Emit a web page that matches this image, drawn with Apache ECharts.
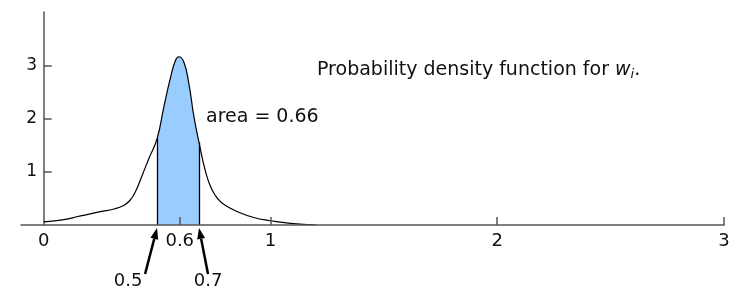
<!DOCTYPE html>
<html>
<head>
<meta charset="utf-8">
<script src="https://cdn.jsdelivr.net/npm/echarts@6/dist/echarts.min.js"></script>
<style>
html, body { margin: 0; padding: 0; background: #fff; }
#chart { width: 742px; height: 289px; }
</style>
</head>
<body>
<div id="chart"></div>
<script>
// density curve
var curveX = [0, 0.075, 0.163, 0.25, 0.31, 0.35, 0.38, 0.405, 0.435, 0.464, 0.5, 0.53, 0.56, 0.581, 0.596, 0.618, 0.64, 0.662, 0.685, 0.714, 0.74, 0.77, 0.8, 0.86, 0.926, 1.0, 1.088, 1.2];
var curveY = [0.06, 0.09, 0.17, 0.25, 0.3, 0.36, 0.46, 0.63, 0.94, 1.25, 1.62, 2.22, 2.78, 3.09, 3.16, 3.06, 2.66, 2.05, 1.55, 1.0, 0.68, 0.48, 0.37, 0.24, 0.14, 0.08, 0.03, 0];
var shadeEdges = [0.5, 0.685];
var arrowLabels = ['0.5', '0.7'];
var xLabelValues = [0, 0.6, 1, 2, 3];
var xTickValues = [0.6, 1, 2, 3];
var yLabelValues = [1, 2, 3];
var areaText = 'area = 0.66';

var FONT = 'DejaVu Sans';
var curve = curveX.map(function (x, i) { return [x, curveY[i]]; });
var shaded = curve.filter(function (p) { return p[0] >= shadeEdges[0] && p[0] <= shadeEdges[1]; });
var edgeLines = shadeEdges.map(function (x) {
    var h = curveY[curveX.indexOf(x)];
    return [{ coord: [x, 0] }, { coord: [x, h] }];
});

// arrow styling (pixel offsets from the tip)
var arrowLean = [-12, 9];
var labelShift = [-17, 0];

function renderArrow(params, api) {
    var i = params.dataIndex;
    var tip = api.coord([api.value(0), 0]);
    var x1 = tip[0], y1 = tip[1] + 3;
    var x0 = x1 + arrowLean[i], y0 = y1 + 46;
    var len = Math.sqrt((x1 - x0) * (x1 - x0) + (y1 - y0) * (y1 - y0));
    var ux = (x1 - x0) / len, uy = (y1 - y0) / len;
    var hx = x1 - ux * 11, hy = y1 - uy * 11;
    var px = -uy * 4, py = ux * 4;
    return {
        type: 'group',
        children: [
            { type: 'line', shape: { x1: x0, y1: y0, x2: hx, y2: hy }, style: { stroke: '#000', lineWidth: 2.5 } },
            { type: 'polygon', shape: { points: [[x1, y1], [hx + px, hy + py], [hx - px, hy - py]] }, style: { fill: '#000' } },
            { type: 'text', x: x0 + labelShift[i], y: y0 + 7,
              style: { text: arrowLabels[i], fontSize: 18, fontFamily: FONT, fill: '#111', align: 'center', verticalAlign: 'middle' } }
        ]
    };
}

var myChart = echarts.init(document.getElementById('chart'));
myChart.setOption({
    animation: false,
    backgroundColor: '#fff',
    grid: { left: 21, right: 18, top: 12, bottom: 64 },
    xAxis: {
        type: 'value',
        min: -0.1,
        max: 3,
        z: 5,
        splitLine: { show: false },
        axisLine: { onZero: true, lineStyle: { color: '#555', width: 1.5 } },
        axisTick: { show: true, inside: true, length: 8, customValues: xTickValues, lineStyle: { color: '#555', width: 1.5 } },
        axisLabel: { customValues: xLabelValues, margin: 7, fontSize: 18, fontFamily: FONT, color: '#111' }
    },
    yAxis: {
        type: 'value',
        min: 0,
        max: 4,
        splitLine: { show: false },
        axisLine: { show: true, onZero: true, lineStyle: { color: '#555', width: 1.5 } },
        axisTick: { show: true, inside: true, length: 8, customValues: yLabelValues, lineStyle: { color: '#555', width: 1.5 } },
        // labels stay at the grid edge, so pull them over to the y axis line
        axisLabel: { customValues: yLabelValues, margin: -16, fontSize: 17, fontFamily: FONT, color: '#111' }
    },
    graphic: [
        { type: 'text', left: 206, top: 108, style: { text: areaText, fontSize: 19, fontFamily: FONT, fill: '#111' } },
        { type: 'text', x: 317, y: 70,
          style: {
            text: 'Probability density function for {w|w}{i|i}.',
            fontSize: 19, fontFamily: FONT, fill: '#111', verticalAlign: 'middle',
            rich: {
                w: { fontSize: 19, fontFamily: FONT, fontStyle: 'italic', fill: '#111' },
                i: { fontSize: 13, fontFamily: FONT, fontStyle: 'italic', fill: '#111', padding: [9, 0, 0, 0] }
            }
          } }
    ],
    series: [
        {
            name: 'shaded',
            type: 'line',
            data: shaded,
            smooth: 0.5,
            symbol: 'none',
            z: 2,
            lineStyle: { width: 0 },
            areaStyle: { color: '#99ccff', opacity: 1 },
            markLine: {
                silent: true,
                symbol: 'none',
                label: { show: false },
                lineStyle: { color: '#000', width: 1.3, type: 'solid' },
                data: edgeLines
            }
        },
        {
            name: 'density',
            type: 'line',
            data: curve,
            smooth: 0.5,
            symbol: 'none',
            z: 3,
            lineStyle: { color: '#000', width: 1.2 }
        },
        {
            name: 'arrows',
            type: 'custom',
            data: shadeEdges.map(function (x) { return [x, 0]; }),
            renderItem: renderArrow,
            z: 4
        }
    ]
});
</script>
</body>
</html>
